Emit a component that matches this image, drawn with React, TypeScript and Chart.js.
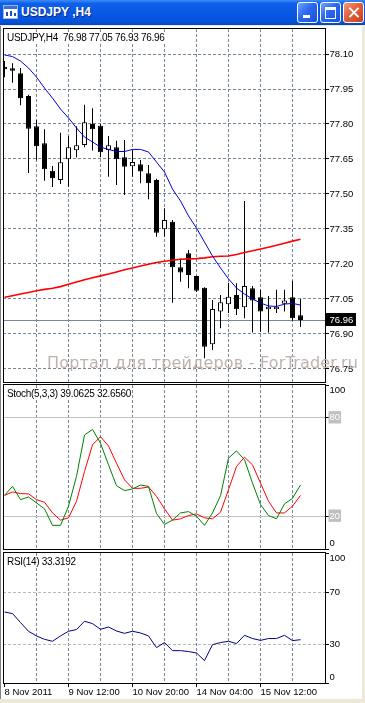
import React, { useEffect, useRef } from "react";
import { Chart, registerables } from "chart.js";

Chart.register(...registerables);

// ---------- data ----------
const barIndex = [0, 1, 2, 3, 4, 5, 6, 7, 8, 9, 10, 11, 12, 13, 14, 15, 16, 17, 18, 19, 20, 21, 22, 23, 24, 25, 26, 27, 28, 29, 30, 31, 32, 33, 34, 35, 36, 37];

const opens = [78.045, 78.039, 78.017, 77.92, 77.79, 77.717, 77.6, 77.56, 77.649, 77.687, 77.71, 77.8, 77.793, 77.689, 77.7, 77.657, 77.619, 77.627, 77.589, 77.56, 77.349, 77.381, 77.186, 77.246, 77.148, 77.098, 76.856, 76.996, 77.027, 77.067, 77.014, 77.096, 77.057, 77.006, 77.006, 77.03, 77.057, 76.98];
const highs = [78.07, 78.06, 78.04, 77.925, 77.817, 77.777, 77.62, 77.763, 77.749, 77.79, 77.883, 77.867, 77.8, 77.749, 77.728, 77.731, 77.689, 77.646, 77.624, 77.565, 77.439, 77.388, 77.224, 77.26, 77.15, 77.1, 77.046, 77.067, 77.12, 77.117, 77.47, 77.106, 77.09, 77.063, 77.089, 77.09, 77.128, 77.05];
const lows = [78.0, 77.977, 77.88, 77.59, 77.645, 77.557, 77.53, 77.543, 77.531, 77.656, 77.7, 77.686, 77.657, 77.574, 77.539, 77.496, 77.574, 77.546, 77.477, 77.317, 77.317, 77.034, 77.124, 77.096, 77.08, 76.796, 76.831, 76.924, 76.99, 76.981, 76.967, 76.906, 76.91, 76.906, 76.99, 76.996, 76.957, 76.93];
const closes = [78.035, 78.028, 77.91, 77.78, 77.705, 77.606, 77.567, 77.636, 77.7, 77.709, 77.807, 77.777, 77.679, 77.709, 77.649, 77.617, 77.637, 77.596, 77.546, 77.334, 77.389, 77.186, 77.163, 77.153, 77.085, 76.845, 77.007, 77.036, 77.06, 77.006, 77.106, 77.043, 76.996, 77.017, 77.017, 77.043, 76.967, 76.96];

const maFast = [78.096, 78.089, 78.07, 78.04, 78.001, 77.954, 77.911, 77.864, 77.826, 77.783, 77.744, 77.723, 77.701, 77.691, 77.682, 77.682, 77.691, 77.691, 77.68, 77.637, 77.594, 77.521, 77.47, 77.406, 77.354, 77.294, 77.234, 77.183, 77.136, 77.097, 77.071, 77.05, 77.033, 77.02, 77.018, 77.028, 77.031, 77.024];
const maSlow = [77.057, 77.064, 77.071, 77.078, 77.085, 77.091, 77.096, 77.103, 77.113, 77.123, 77.132, 77.141, 77.149, 77.157, 77.166, 77.175, 77.183, 77.191, 77.199, 77.206, 77.212, 77.216, 77.22, 77.222, 77.223, 77.226, 77.231, 77.233, 77.234, 77.241, 77.249, 77.257, 77.264, 77.272, 77.28, 77.289, 77.298, 77.306];

const stochMain = [32.7, 38.2, 30.1, 31.7, 28.1, 24.5, 14.4, 14.4, 26.1, 44.3, 69.5, 72.9, 64.5, 51.3, 38.6, 35.6, 36.6, 39.0, 38.2, 21.6, 15.0, 17.6, 22.0, 22.8, 20.0, 14.4, 22.0, 32.5, 55.4, 59.8, 54.4, 40.2, 27.1, 20.4, 18.4, 27.5, 30.9, 39.06];
const stochSignal = [32.7, 34.8, 33.8, 33.6, 30.1, 28.5, 22.0, 17.6, 19.0, 29.1, 47.3, 63.5, 68.5, 62.8, 52.3, 42.2, 37.0, 37.0, 37.8, 32.1, 24.5, 17.6, 18.4, 20.4, 21.4, 19.0, 18.4, 22.4, 36.2, 50.3, 56.0, 51.3, 40.2, 29.1, 22.0, 22.0, 26.1, 32.66];

const rsiValues = [54.6, 53.4, 46.5, 39.8, 36.2, 33.6, 32.1, 36.2, 39.8, 41.1, 47.5, 45.7, 41.3, 43.1, 40.0, 38.2, 39.8, 38.5, 36.2, 27.2, 31.1, 24.9, 24.9, 24.2, 23.1, 17.2, 29.5, 31.1, 32.1, 30.3, 36.7, 34.2, 32.8, 34.2, 34.2, 36.7, 32.6, 33.32];

const priceTicks = [76.75, 76.9, 77.05, 77.2, 77.35, 77.5, 77.65, 77.8, 77.95, 78.1];
const stochTicks = [0, 20, 80, 100];
const stochLevels = [20, 80];
const rsiTicks = [0, 30, 70, 100];
const rsiLevels = [30, 70];
const gridBars = [0, 4, 8, 12, 16, 20, 24, 28, 32, 36];
const dateTickBars = [0, 8, 16, 24, 32];
const dateLabels = ["8 Nov 2011", "9 Nov 12:00", "10 Nov 20:00", "14 Nov 04:00", "15 Nov 12:00"];

// ---------- styling ----------
const FONT_FAMILY = "'Liberation Sans', Arial, sans-serif";
const AXIS_FONT = { family: FONT_FAMILY, size: 9.5 };
const GRID = "#778899";
const NONE = "rgba(0,0,0,0)";
const X_MIN = -0.1875;
const X_MAX = 40.0625;

function xAxis(showLabels: boolean): any {
  return {
    type: "linear",
    min: X_MIN,
    max: X_MAX,
    offset: false,
    afterBuildTicks: (s: any) => {
      s.ticks = gridBars.map((v) => ({ value: v }));
    },
    afterFit: (s: any) => {
      s.paddingLeft = 0;
      s.paddingRight = 0;
      s.height = showLabels ? 16 : 0;
    },
    grid: {
      offset: false,
      lineWidth: 1,
      color: (c: any) => (c.tick && c.tick.value === 0 ? NONE : GRID),
      drawTicks: showLabels,
      tickLength: 4,
      tickColor: (c: any) => (c.tick && dateTickBars.includes(c.tick.value) ? "#000" : NONE),
      tickBorderDash: [],
    },
    border: { display: false, dash: [3, 2] },
    ticks: {
      display: showLabels,
      autoSkip: false,
      maxRotation: 0,
      minRotation: 0,
      align: "start",
      padding: 0,
      color: "#000",
      font: AXIS_FONT,
      callback: (v: any) => {
        const k = dateTickBars.indexOf(Number(v));
        return k >= 0 ? dateLabels[k] : "";
      },
    },
  };
}

function yFit(s: any) {
  s.width = 37;
  s.paddingTop = 0;
  s.paddingBottom = 0;
}

const framePlugin = {
  id: "frame",
  afterDraw(chart: any) {
    const { ctx, chartArea: a } = chart;
    ctx.save();
    ctx.strokeStyle = "#000";
    ctx.lineWidth = 1;
    ctx.strokeRect(a.left + 0.5, a.top - 0.5, a.right - a.left, a.bottom - a.top + 1);
    ctx.restore();
  },
};

const bidPlugin = {
  id: "bid",
  beforeDatasetsDraw(chart: any) {
    const { ctx, chartArea: a, scales } = chart;
    const y = Math.round(scales.y.getPixelForValue(closes[closes.length - 1])) + 0.5;
    ctx.save();
    ctx.strokeStyle = GRID;
    ctx.lineWidth = 1;
    ctx.beginPath();
    ctx.moveTo(a.left, y);
    ctx.lineTo(a.right, y);
    ctx.stroke();
    ctx.restore();
  },
  afterDraw(chart: any) {
    const { ctx, chartArea: a, scales } = chart;
    const last = closes[closes.length - 1];
    const y = Math.round(scales.y.getPixelForValue(last));
    ctx.save();
    ctx.fillStyle = "#000";
    ctx.fillRect(a.right + 1, y - 7, 30, 13);
    ctx.fillStyle = "#fff";
    ctx.font = `9.5px ${FONT_FAMILY}`;
    ctx.textAlign = "left";
    ctx.textBaseline = "middle";
    ctx.fillText(last.toFixed(2), a.right + 4.5, y);
    ctx.restore();
  },
};

const baseOptions = (padding: any) => ({
  responsive: false,
  animation: false,
  devicePixelRatio: 1,
  events: [],
  layout: { padding },
  plugins: { legend: { display: false }, tooltip: { enabled: false }, title: { display: false } },
});

function mainConfig(): any {
  return {
    type: "bar",
    data: {
      datasets: [
        {
          type: "line",
          data: barIndex.map((x, i) => ({ x, y: maFast[i] })),
          borderColor: "#0000DD",
          borderWidth: 1,
          pointRadius: 0,
          tension: 0,
          order: 0,
        },
        {
          type: "line",
          data: barIndex.map((x, i) => ({ x, y: maSlow[i] })),
          borderColor: "#FF0000",
          borderWidth: 1.6,
          pointRadius: 0,
          tension: 0,
          order: 0,
        },
        {
          type: "bar",
          data: barIndex.map((x, i) => ({ x, y: [opens[i], closes[i]] })),
          backgroundColor: barIndex.map((i) => (closes[i] >= opens[i] ? "#FFFFFF" : "#000000")),
          borderColor: "#000",
          borderWidth: 1,
          borderSkipped: false,
          barThickness: 5,
          maxBarThickness: 5,
          grouped: false,
          inflateAmount: 0,
          order: 1,
        },
        {
          type: "bar",
          data: barIndex.map((x, i) => ({ x, y: [lows[i], highs[i]] })),
          backgroundColor: "#000",
          borderWidth: 0,
          barThickness: 1,
          maxBarThickness: 1,
          grouped: false,
          inflateAmount: 0,
          order: 2,
        },
      ],
    },
    options: {
      ...baseOptions({ left: 3, right: 3, top: 9, bottom: 10 }),
      scales: {
        x: xAxis(false),
        y: {
          type: "linear",
          position: "right",
          min: 76.6941,
          max: 78.2072,
          afterBuildTicks: (s: any) => {
            s.ticks = priceTicks.map((v) => ({ value: v }));
          },
          afterFit: yFit,
          grid: { color: GRID, lineWidth: 1, drawTicks: true, tickLength: 4, tickColor: "#000", tickBorderDash: [] },
          border: { display: false, dash: [3, 2] },
          ticks: { padding: 0.5, color: "#000", font: AXIS_FONT, callback: (v: any) => Number(v).toFixed(2) },
        },
      },
    },
    plugins: [bidPlugin, framePlugin],
  };
}

function stochConfig(): any {
  const isLevel = (c: any) => c.tick && stochLevels.includes(c.tick.value);
  return {
    type: "line",
    data: {
      datasets: [
        { data: barIndex.map((x, i) => ({ x, y: stochMain[i] })), borderColor: "#008000", borderWidth: 1, pointRadius: 0, tension: 0 },
        { data: barIndex.map((x, i) => ({ x, y: stochSignal[i] })), borderColor: "#FF0000", borderWidth: 1, pointRadius: 0, tension: 0 },
      ],
    },
    options: {
      ...baseOptions({ left: 3, right: 3, top: 8, bottom: 8 }),
      scales: {
        x: xAxis(false),
        y: {
          type: "linear",
          position: "right",
          min: 0,
          max: 100,
          afterBuildTicks: (s: any) => {
            s.ticks = stochTicks.map((v) => ({ value: v }));
          },
          afterFit: yFit,
          grid: {
            color: (c: any) => (isLevel(c) ? "#C0C0C0" : NONE),
            lineWidth: 1,
            drawTicks: true,
            tickLength: 4,
            tickColor: "#000",
            tickBorderDash: [],
          },
          border: { display: false, dash: [] },
          ticks: {
            padding: 0.5,
            font: AXIS_FONT,
            color: (c: any) => (isLevel(c) ? "#FFFFFF" : "#000"),
            showLabelBackdrop: (c: any) => isLevel(c),
            backdropColor: "#C0C0C0",
            backdropPadding: { top: 1, bottom: 0, left: 1, right: 1 },
            callback: (v: any) => (v === 100 ? ["", "100"] : v === 0 ? ["0", ""] : String(v)),
          },
        },
      },
    },
    plugins: [framePlugin],
  };
}

function rsiConfig(): any {
  const isLevel = (c: any) => c.tick && rsiLevels.includes(c.tick.value);
  return {
    type: "line",
    data: {
      datasets: [
        { data: barIndex.map((x, i) => ({ x, y: rsiValues[i] })), borderColor: "#000080", borderWidth: 1, pointRadius: 0, tension: 0 },
      ],
    },
    options: {
      ...baseOptions({ left: 3, right: 3, top: 8, bottom: 4 }),
      scales: {
        x: xAxis(true),
        y: {
          type: "linear",
          position: "right",
          min: 0,
          max: 100,
          afterBuildTicks: (s: any) => {
            s.ticks = rsiTicks.map((v) => ({ value: v }));
          },
          afterFit: yFit,
          grid: {
            color: (c: any) => (isLevel(c) ? "#B8B8B8" : NONE),
            lineWidth: 1,
            drawTicks: true,
            tickLength: 4,
            tickColor: "#000",
            tickBorderDash: [],
          },
          border: { display: false, dash: [3, 2] },
          ticks: {
            padding: 0.5,
            font: AXIS_FONT,
            color: "#000",
            callback: (v: any) => (v === 100 ? ["", "100"] : v === 0 ? ["0", ""] : String(v)),
          },
        },
      },
    },
    plugins: [framePlugin],
  };
}

function ChartCanvas({ top, height, build }: { top: number; height: number; build: () => any }) {
  const ref = useRef<HTMLCanvasElement>(null);
  useEffect(() => {
    const chart = new Chart(ref.current as HTMLCanvasElement, build());
    return () => chart.destroy();
  }, []);
  return (
    <canvas
      ref={ref}
      width={365}
      height={height}
      style={{ position: "absolute", left: 0, top, width: 365, height, display: "block" }}
    />
  );
}

const headerStyle: any = {
  position: "absolute",
  left: 7,
  fontFamily: FONT_FAMILY,
  fontSize: 10,
  lineHeight: "12px",
  letterSpacing: "-0.3px",
  color: "#000",
  background: "#fff",
  whiteSpace: "pre",
};

function TitleBar() {
  const btn: any = {
    position: "absolute",
    top: 2,
    width: 19,
    height: 19,
    border: "1px solid #fff",
    borderRadius: 3,
    boxSizing: "content-box",
  };
  const blueBtn = "linear-gradient(135deg, #6FA2FF 0%, #2A68F0 45%, #1B52DA 100%)";
  return (
    <>
      <div
        style={{
          position: "absolute",
          left: 0,
          top: 0,
          width: 365,
          height: 25,
          background: "linear-gradient(to bottom, #3D8DF8 0%, #0E60EA 14%, #0958E3 50%, #0653DC 86%, #0447C6 100%)",
        }}
      />
      <div style={{ position: "absolute", left: 3, top: 5, width: 13, height: 12, background: "#fff", border: "1px solid #9CB8E8" }}>
        <div style={{ position: "absolute", left: 0, top: 0, width: 13, height: 3, background: "#3A6FD8" }} />
        <div style={{ position: "absolute", left: 2, top: 6, width: 2, height: 4, background: "#1E4FB8" }} />
        <div style={{ position: "absolute", left: 6, top: 5, width: 2, height: 5, background: "#1E4FB8" }} />
        <div style={{ position: "absolute", left: 10, top: 7, width: 2, height: 3, background: "#1E4FB8" }} />
      </div>
      <div
        style={{
          position: "absolute",
          left: 21,
          top: 0,
          height: 25,
          lineHeight: "25px",
          color: "#fff",
          fontFamily: FONT_FAMILY,
          fontWeight: "bold",
          fontSize: 12,
          textShadow: "1px 1px 0 #0A2A8A",
          whiteSpace: "pre",
        }}
      >
        USDJPY ,H4
      </div>
      <div style={{ ...btn, left: 297, background: blueBtn }}>
        <div style={{ position: "absolute", left: 5, top: 12, width: 7, height: 3, background: "#fff" }} />
      </div>
      <div style={{ ...btn, left: 320, background: blueBtn }}>
        <div style={{ position: "absolute", left: 4, top: 4, width: 9, height: 8, border: "1px solid #fff", borderTopWidth: 3 }} />
      </div>
      <div style={{ ...btn, left: 343, background: "linear-gradient(135deg, #F29A7E 0%, #E3603B 45%, #C8401E 100%)" }}>
        <div style={{ position: "absolute", left: 8.5, top: 3, width: 2, height: 13, background: "#fff", transform: "rotate(45deg)" }} />
        <div style={{ position: "absolute", left: 8.5, top: 3, width: 2, height: 13, background: "#fff", transform: "rotate(-45deg)" }} />
      </div>
    </>
  );
}

export default function App() {
  return (
    <div
      style={{
        position: "absolute",
        left: 0,
        top: 0,
        width: 365,
        height: 703,
        background: "#ECE9D8",
        overflow: "hidden",
        fontFamily: FONT_FAMILY,
      }}
    >
      <TitleBar />
      <div style={{ position: "absolute", left: 0, top: 26, width: 362, height: 673, background: "#fff", borderLeft: "1px solid #808080", boxSizing: "border-box" }} />
      <ChartCanvas top={20} height={372} build={mainConfig} />
      <ChartCanvas top={377} height={180} build={stochConfig} />
      <ChartCanvas top={545} height={158} build={rsiConfig} />
      <div style={{ ...headerStyle, top: 32 }}>{"USDJPY,H4  76.98 77.05 76.93 76.96"}</div>
      <div style={{ ...headerStyle, top: 388 }}>{"Stoch(5,3,3) 39.0625 32.6560"}</div>
      <div style={{ ...headerStyle, top: 556 }}>{"RSI(14) 33.3192"}</div>
      <div
        style={{
          position: "absolute",
          left: 47,
          top: 355,
          fontFamily: "'DejaVu Sans', sans-serif",
          fontSize: 16,
          lineHeight: "16px",
          letterSpacing: "0.2px",
          color: "#BFB2AE",
          whiteSpace: "pre",
        }}
      >
        Портал для трейдеров - ForTrader.ru
      </div>
    </div>
  );
}
